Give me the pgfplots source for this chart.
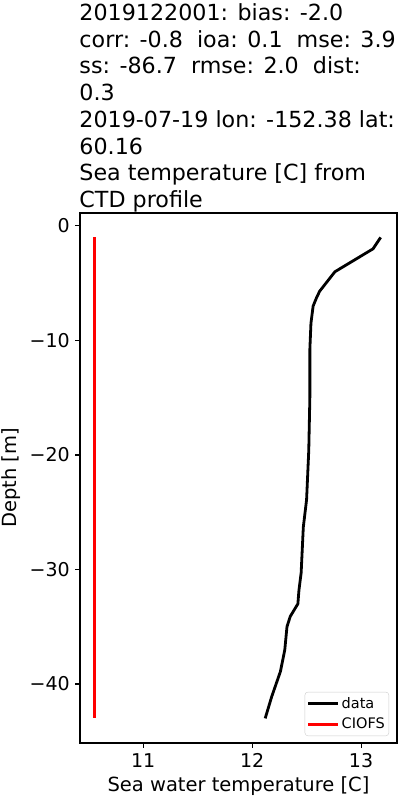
\documentclass[border=0pt]{standalone}
\usepackage{fontspec}
\setmainfont{DejaVu Sans}
\usepackage{pgfplots}
\pgfplotsset{compat=1.18}
\begin{document}
\begin{tikzpicture}
\begin{axis}[
  at={(0,0)}, anchor=south west,
  width=317bp, height=530bp, scale only axis,
  xmin=10.42, xmax=13.33, ymin=-45.15, ymax=1.13,
  xtick={11,12,13}, xticklabels={11,12,13},
  ytick={-40,-30,-20,-10,0}, yticklabels={−40,−30,−20,−10,0},
  tick align=outside, xtick pos=bottom, ytick pos=left,
  major tick length=4.9bp,
  every tick/.style={line width=1.1bp, black},
  axis line style={line width=1.1bp},
  tick label style={font=\fontsize{19bp}{22bp}\selectfont},
  xticklabel style={inner sep=0pt, anchor=base, yshift=-19.4bp},
  yticklabel style={inner sep=0pt, anchor=east, xshift=-5.1bp},
  xlabel={Sea water temperature [C]},
  ylabel={Depth [m]},
  label style={font=\fontsize{19.5bp}{22bp}\selectfont},
  xlabel style={at={(axis description cs:0.5,0)}, anchor=base, inner sep=0pt, yshift=-48.5bp},
  ylabel style={at={(axis description cs:-0.1997,0.5)}, anchor=base, inner sep=0pt},
  legend style={at={(axis description cs:1,0)}, anchor=south east, xshift=-8bp, yshift=7bp,
    draw=black!20, rounded corners=3bp, fill=white, row sep=4bp, inner ysep=3.5bp, inner xsep=2bp,
    font=\fontsize{14.5bp}{17bp}\selectfont},
  legend cell align=left,
  legend image code/.code={\draw[#1, line width=2.8bp] (0bp,0bp) -- (30bp,0bp);},
]
\addplot[black, line width=2.8bp] coordinates {
(13.18,-1) (13.11,-2) (12.76,-4) (12.62,-5.7) (12.59,-6.3) (12.56,-7) (12.54,-8.5)
(12.53,-10.8) (12.53,-15) (12.52,-19.6) (12.50,-23.9) (12.47,-26.3) (12.46,-28.3)
(12.45,-30.3) (12.43,-31.8) (12.42,-33) (12.35,-34.1) (12.32,-35) (12.30,-37)
(12.26,-38.9) (12.18,-41.1) (12.12,-43)
};
\addlegendentry{data}
\addplot[red, line width=2.8bp] coordinates {(10.55,-1) (10.55,-43)};
\addlegendentry{CIOFS}
\end{axis}
\begin{scope}[every node/.style={anchor=base west, inner sep=0pt, font=\fontsize{22.2bp}{26bp}\selectfont}]
\node at (-0.7bp,722.4bp) {2019122001: bias: -2.0};
\node at (-0.7bp,695.7bp) {corr: -0.8\ \ ioa: 0.1\ \ mse: 3.9};
\node at (-0.7bp,669.0bp) {ss: -86.7\ \ rmse: 2.0\ \ dist:};
\node at (-0.7bp,642.3bp) {0.3};
\node at (-0.7bp,615.6bp) {2019-07-19 lon: -152.38 lat:};
\node at (-0.7bp,588.9bp) {60.16};
\node at (-0.7bp,562.2bp) {Sea temperature [C] from};
\node at (-0.7bp,535.5bp) {CTD profile};
\end{scope}
\pgfresetboundingbox
\useasboundingbox (-80bp,-57bp) rectangle (320bp,743bp);
\end{tikzpicture}
\end{document}
